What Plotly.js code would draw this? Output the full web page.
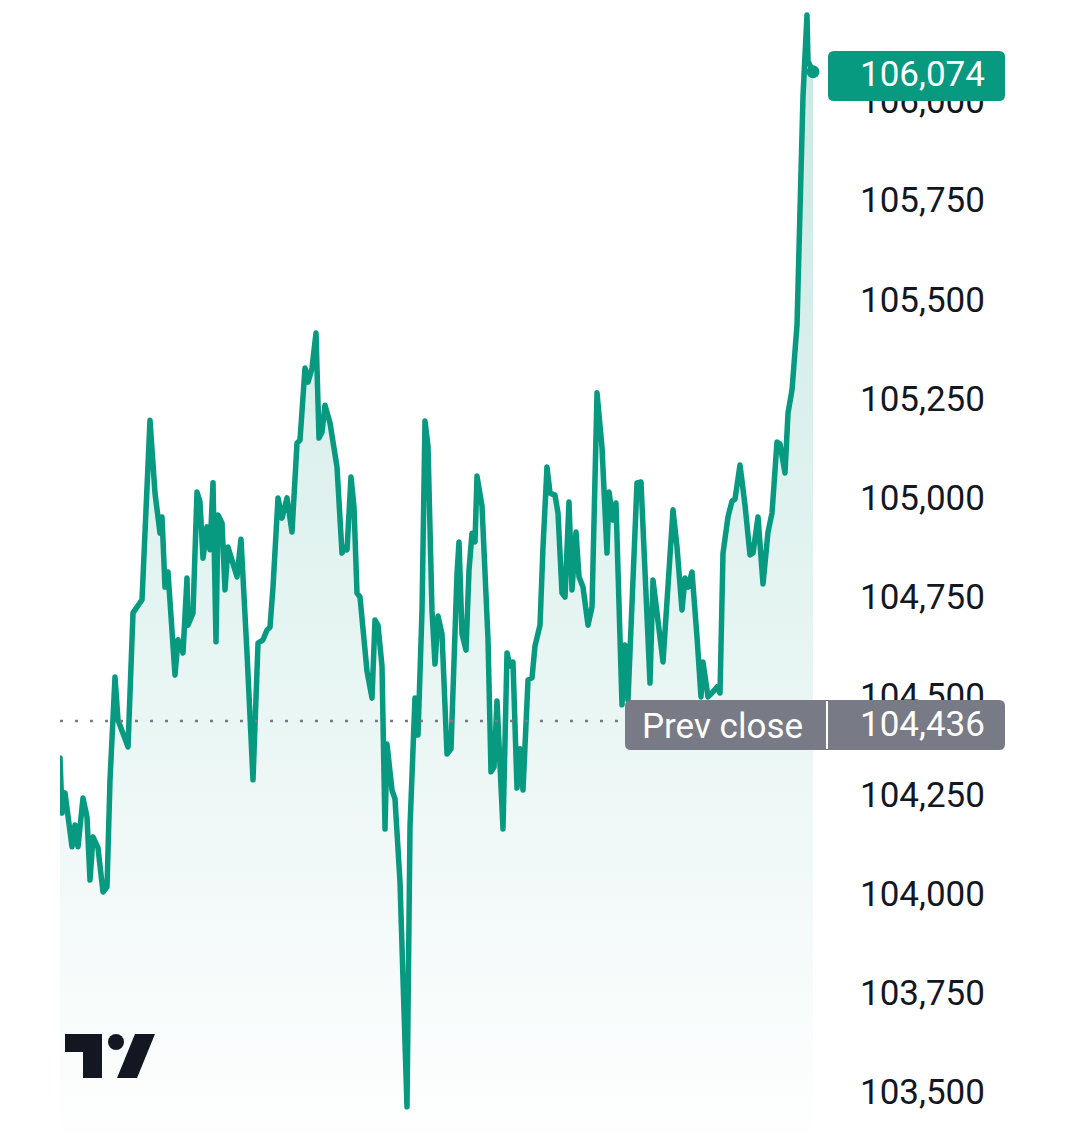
<!DOCTYPE html>
<html>
<head>
<meta charset="utf-8">
<script src="https://cdn.plot.ly/plotly-3.0.1.min.js"></script>
<style>
html,body{margin:0;padding:0;background:#ffffff;}
#chart{width:1080px;height:1133px;}
#chart path.js-line{stroke-linejoin:round;stroke-linecap:round;}
</style>
</head>
<body>
<div id="chart"></div>
<script>
// ---- data ----
const minutes = [0,2,5,12,15,18,23,27,30,33,38,43,47,50,55,58,68,73,82,90,95,100,102,105,108,115,118,123,127,128,133,137,140,143,147,150,153,156,158,162,165,168,177,181,187,193,198,203,207,210,213,218,222,227,232,237,240,245,248,252,256,259,262,265,270,277,282,285,287,291,294,297,300,307,312,315,318,322,325,327,332,335,340,343,347,350,355,358,362,365,368,372,375,378,382,387,391,397,399,402,406,409,412,415,417,422,425,428,431,434,437,440,443,447,450,453,457,460,463,468,472,475,480,483,487,490,495,498,502,505,509,512,516,519,523,528,532,537,542,547,549,553,556,562,565,568,577,581,590,593,598,603,613,617,622,625,628,632,637,641,643,648,653,657,660,663,668,672,675,680,685,690,693,698,703,708,712,717,720,725,728,732,737,740,743,747,748,753];
const prices = [104343,104204,104255,104119,104174,104119,104242,104194,104035,104144,104116,104005,104018,104288,104547,104439,104371,104709,104742,105195,105011,104910,104951,104774,104812,104552,104641,104608,104797,104678,104709,105014,104989,104847,104926,104868,105037,104636,104956,104936,104767,104875,104800,104895,104608,104288,104633,104641,104666,104673,104774,104999,104948,104999,104913,105137,105145,105327,105291,105327,105415,105150,105165,105233,105188,105077,104860,104875,104868,105052,104976,104759,104749,104562,104494,104691,104678,104575,104164,104378,104262,104240,104030,103798,103463,104169,104494,104401,104714,105193,105130,104714,104580,104701,104656,104353,104366,104807,104888,104656,104615,104817,104910,104888,105054,104979,104782,104643,104308,104320,104487,104308,104164,104608,104575,104585,104267,104366,104262,104540,104545,104626,104678,104875,105077,105011,105006,104961,104759,104749,104989,104767,104913,104800,104774,104678,104724,105264,105127,104860,105014,104943,104986,104477,104628,104489,105037,105039,104532,104792,104691,104585,104969,104875,104716,104797,104774,104812,104648,104497,104585,104497,104510,104522,104507,104860,104951,104991,104996,105082,104981,104855,104860,104951,104782,104913,104961,105140,105135,105062,105213,105271,105435,105675,106013,106217,106101,106074];
const prevClose = 104436;
const lastPrice = 106074;
const tickValues = [103500,103750,104000,104250,104500,104750,105000,105250,105500,105750,106000];
const tickLabels = ["103,500","103,750","104,000","104,250","104,500","104,750","105,000","105,250","105,500","105,750","106,000"];
const prevLabel = "Prev close";

// ---- layout helpers (pixel -> paper) ----
const W = 1080, H = 1133, L = 60, R = 267;
const PW = W - L - R;
const px = v => (v - L) / PW;
const py = v => 1 - v / H;
function roundRect(x0, y0, x1, y1, r) {
  const p = (x, y) => px(x) + ',' + py(y);
  return 'M' + p(x0 + r, y0) + ' L' + p(x1 - r, y0) + ' Q' + p(x1, y0) + ' ' + p(x1, y0 + r) +
    ' L' + p(x1, y1 - r) + ' Q' + p(x1, y1) + ' ' + p(x1 - r, y1) +
    ' L' + p(x0 + r, y1) + ' Q' + p(x0, y1) + ' ' + p(x0, y1 - r) +
    ' L' + p(x0, y0 + r) + ' Q' + p(x0, y0) + ' ' + p(x0 + r, y0) + ' Z';
}
function poly(pts) {
  return 'M' + pts.map(q => px(q[0]) + ',' + py(q[1])).join(' L') + ' Z';
}

const GREEN = '#089981';
const GREY = '#787b86';
const INK = '#131722';
const fmt = v => v.toLocaleString('en-US');

const traces = [
  {
    x: minutes, y: prices, type: 'scatter', mode: 'lines',
    line: {color: GREEN, width: 5.5},
    fill: 'tozeroy',
    fillgradient: {
      type: 'vertical', start: 103350, stop: 106050,
      colorscale: [[0, 'rgba(8,153,129,0)'], [1, 'rgba(8,153,129,0.21)']]
    },
    hoverinfo: 'skip', showlegend: false
  },
  {
    x: [minutes[minutes.length - 1]], y: [prices[prices.length - 1]],
    type: 'scatter', mode: 'markers', cliponaxis: false,
    marker: {color: GREEN, size: 13}, hoverinfo: 'skip', showlegend: false
  }
];

const layout = {
  width: W, height: H,
  margin: {l: L, r: R, t: 0, b: 0, pad: 0},
  paper_bgcolor: '#ffffff', plot_bgcolor: '#ffffff',
  showlegend: false,
  font: {family: 'Roboto, sans-serif', color: INK},
  xaxis: {range: [0, 753], visible: false, fixedrange: true},
  yaxis: {
    range: [103397, 106255], side: 'right',
    tickvals: tickValues, ticktext: tickLabels,
    showgrid: false, zeroline: false, showline: false, ticks: '',
    ticklabelstandoff: 46,
    tickfont: {family: 'Roboto, sans-serif', size: 35, color: INK},
    fixedrange: true
  },
  shapes: [
    {type: 'line', xref: 'paper', yref: 'y', x0: 0, x1: px(625), y0: prevClose, y1: prevClose,
     line: {color: GREY, width: 2.5, dash: '3px,12px'}},
    {type: 'path', xref: 'paper', yref: 'paper', path: roundRect(625, 700, 1005, 750, 6),
     fillcolor: GREY, line: {width: 0}},
    {type: 'line', xref: 'paper', yref: 'paper', x0: px(827), x1: px(827), y0: py(701), y1: py(749),
     line: {color: '#ffffff', width: 2}},
    {type: 'path', xref: 'paper', yref: 'paper', path: roundRect(828, 51, 1005, 101, 6),
     fillcolor: GREEN, line: {width: 0}},
    {type: 'path', xref: 'paper', yref: 'paper',
     path: poly([[65,1034],[102,1034],[102,1078],[83,1078],[83,1052],[65,1052]]),
     fillcolor: INK, line: {width: 0}},
    {type: 'circle', xref: 'paper', yref: 'paper', x0: px(108), x1: px(124), y0: py(1050), y1: py(1034),
     fillcolor: INK, line: {width: 0}},
    {type: 'path', xref: 'paper', yref: 'paper',
     path: poly([[135,1034],[155,1034],[137,1078],[117,1078]]),
     fillcolor: INK, line: {width: 0}}
  ],
  annotations: [
    {xref: 'paper', yref: 'paper', x: px(987), y: py(75), xanchor: 'right', yanchor: 'middle',
     text: fmt(lastPrice), showarrow: false, font: {family: 'Roboto, sans-serif', size: 35, color: '#ffffff'}},
    {xref: 'paper', yref: 'paper', x: px(640), y: py(726), xanchor: 'left', yanchor: 'middle',
     text: prevLabel, showarrow: false, font: {family: 'Roboto, sans-serif', size: 35, color: '#ffffff'}},
    {xref: 'paper', yref: 'paper', x: px(987), y: py(724), xanchor: 'right', yanchor: 'middle',
     text: fmt(prevClose), showarrow: false, font: {family: 'Roboto, sans-serif', size: 35, color: '#ffffff'}}
  ]
};

Plotly.newPlot('chart', traces, layout, {staticPlot: true, displayModeBar: false}).then(() => {
  document.querySelectorAll('#chart .scatterlayer .js-line').forEach(p => {
    p.style.strokeLinejoin = 'round';
    p.style.strokeLinecap = 'round';
  });
});
</script>
</body>
</html>
